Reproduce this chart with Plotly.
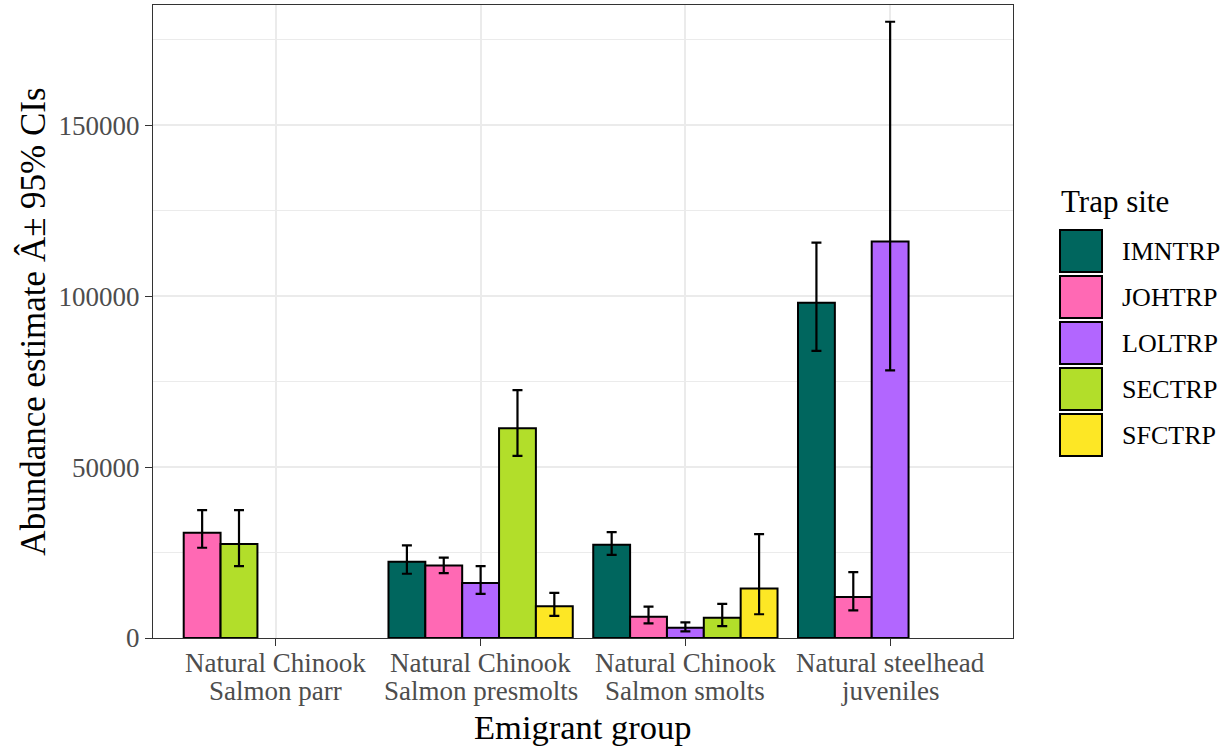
import plotly.graph_objects as go

# ---------------- data ----------------
group_line1 = ["Natural Chinook", "Natural Chinook", "Natural Chinook", "Natural steelhead"]
group_line2 = ["Salmon parr", "Salmon presmolts", "Salmon smolts", "juveniles"]
sites = ["IMNTRP", "JOHTRP", "LOLTRP", "SECTRP", "SFCTRP"]
colors = ["#00665E", "#FF69B4", "#B266FF", "#B2DE2A", "#FDE725"]

est_IMNTRP = [None, 22300, 27300, 98100]
est_JOHTRP = [30800, 21200, 6200, 12000]
est_LOLTRP = [None, 16100, 3000, 116000]
est_SECTRP = [27500, 61400, 5900, None]
est_SFCTRP = [None, 9300, 14500, None]

low_IMNTRP = [None, 18800, 24300, 84000]
low_JOHTRP = [26400, 19000, 4300, 8100]
low_LOLTRP = [None, 12900, 1950, 78300]
low_SECTRP = [21000, 53300, 3500, None]
low_SFCTRP = [None, 6450, 6950, None]

up_IMNTRP = [None, 27100, 31000, 115700]
up_JOHTRP = [37400, 23500, 9200, 19300]
up_LOLTRP = [None, 21000, 4600, 180300]
up_SECTRP = [37400, 72500, 10000, None]
up_SFCTRP = [None, 13200, 30400, None]

estimates = [est_IMNTRP, est_JOHTRP, est_LOLTRP, est_SECTRP, est_SFCTRP]
lowers = [low_IMNTRP, low_JOHTRP, low_LOLTRP, low_SECTRP, low_SFCTRP]
uppers = [up_IMNTRP, up_JOHTRP, up_LOLTRP, up_SECTRP, up_SFCTRP]

y_ticks = [0, 50000, 100000, 150000]

# ---------------- layout constants ----------------
FONT = "Liberation Serif"
W, H = 1226, 746
ML, MR, MT, MB = 153, 213, 5, 108
DODGE = 0.9
BAR_W = DODGE / len(sites)

fig = go.Figure()

# position_dodge(preserve = "single"): present bars fill the leftmost slots
for s, site in enumerate(sites):
    xs, ys, ep, em = [], [], [], []
    for g in range(len(group_line1)):
        if estimates[s][g] is None:
            continue
        present = [k for k in range(len(sites)) if estimates[k][g] is not None]
        slot = present.index(s)
        xs.append(g + 1 - DODGE / 2 + BAR_W * (slot + 0.5))
        ys.append(estimates[s][g])
        ep.append(uppers[s][g] - estimates[s][g])
        em.append(estimates[s][g] - lowers[s][g])
    fig.add_trace(go.Bar(
        x=xs, y=ys, width=BAR_W, name=site,
        marker=dict(color=colors[s], line=dict(color="black", width=2)),
        error_y=dict(type="data", symmetric=False, array=ep, arrayminus=em,
                     color="black", thickness=2.2, width=5),
        showlegend=False,
    ))

fig.update_layout(
    width=W, height=H,
    margin=dict(l=ML, r=MR, t=MT, b=MB),
    paper_bgcolor="white", plot_bgcolor="white",
    font=dict(family=FONT, color="black"),
    barmode="overlay",
)

cat_pos = [1, 2, 3, 4]
fig.update_xaxes(
    range=[0.4, 4.6], tickmode="array", tickvals=cat_pos, ticktext=["", "", "", ""],
    showgrid=True, gridcolor="#EBEBEB", gridwidth=1.5,
    showline=True, linecolor="#333333", linewidth=1.2, mirror=True,
    ticks="outside", ticklen=7, tickcolor="#333333", tickwidth=1.2,
    zeroline=False, automargin=False,
)
fig.update_yaxes(
    range=[0, 185200], tickmode="array", tickvals=y_ticks, tickformat="d",
    showgrid=True, gridcolor="#EBEBEB", gridwidth=1.5,
    minor=dict(dtick=25000, tick0=0, showgrid=True, gridcolor="#EBEBEB", gridwidth=0.8),
    showline=True, linecolor="#333333", linewidth=1.2, mirror=True,
    ticks="outside", ticklen=7, tickcolor="#333333", tickwidth=1.2,
    tickfont=dict(family=FONT, size=27, color="#4D4D4D"),
    title=dict(text="Abundance estimate Â± 95% CIs", font=dict(family=FONT, size=35, color="black"), standoff=2),
    zeroline=False, automargin=False,
)

pw = W - ML - MR
ph = H - MT - MB
def px2x(px):
    return (px - ML) / pw
def py2y(py):
    return (H - MB - py) / ph

# category labels (two lines, ggplot-like line spacing)
for g in range(len(group_line1)):
    fig.add_annotation(x=cat_pos[g], y=py2y(663), xref="x", yref="paper",
                       text=group_line1[g], showarrow=False, xanchor="center", yanchor="middle",
                       font=dict(family=FONT, size=27, color="#4D4D4D"))
    fig.add_annotation(x=cat_pos[g], y=py2y(691), xref="x", yref="paper",
                       text=group_line2[g], showarrow=False, xanchor="center", yanchor="middle",
                       font=dict(family=FONT, size=27, color="#4D4D4D"))

# x-axis title
fig.add_annotation(x=0.5, y=py2y(727), xref="paper", yref="paper",
                   text="Emigrant group", showarrow=False, xanchor="center", yanchor="middle",
                   font=dict(family=FONT, size=34.5, color="black"))

# ---------------- legend (drawn like ggplot keys) ----------------
fig.add_annotation(x=px2x(1059), y=py2y(202), xref="paper", yref="paper",
                   text="Trap site", showarrow=False, xanchor="left", yanchor="middle",
                   font=dict(family=FONT, size=31, color="black"))
for i, site in enumerate(sites):
    top = 230 + 46 * i
    fig.add_shape(type="rect", xref="paper", yref="paper",
                  x0=px2x(1060), x1=px2x(1102), y0=py2y(top + 42), y1=py2y(top),
                  fillcolor=colors[i], line=dict(color="black", width=2))
    fig.add_annotation(x=px2x(1120), y=py2y(top + 21), xref="paper", yref="paper",
                       text=site, showarrow=False, xanchor="left", yanchor="middle",
                       font=dict(family=FONT, size=26, color="black"))

fig.write_html("out.html")
